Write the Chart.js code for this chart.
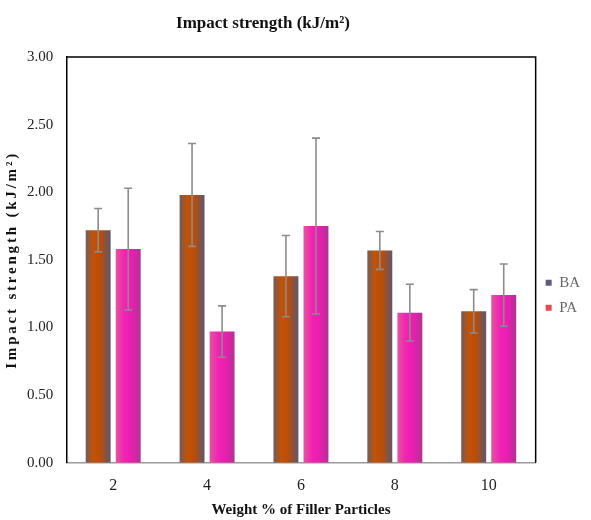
<!DOCTYPE html>
<html>
<head>
<meta charset="utf-8">
<script src="https://cdn.jsdelivr.net/npm/chart.js@4"></script>
<style>
  html, body { margin: 0; padding: 0; background: #fff; }
  #wrap { position: relative; width: 591px; height: 520px; }
  #heading {
    position: absolute; left: 0; top: 13px; width: 526px;
    text-align: center;
    font: bold 17px "Liberation Serif", "DejaVu Serif", serif;
    color: #111;
  }
  canvas { position: absolute; left: 0; top: 0; }
</style>
</head>
<body>
<div id="wrap">
  <canvas id="impactChart" width="591" height="520"></canvas>
  <div id="heading">Impact strength (kJ/m²)</div>
</div>
<script>
const weightLabels = ['2', '4', '6', '8', '10'];
const baValues = [1.72, 1.98, 1.38, 1.57, 1.12];
const paValues = [1.58, 0.97, 1.75, 1.11, 1.24];
const baErrors = [0.16, 0.38, 0.30, 0.14, 0.16];
const paErrors = [0.45, 0.19, 0.65, 0.21, 0.23];
const yTicks = [0, 0.5, 1, 1.5, 2, 2.5, 3];

const CAT_PCT = 0.64;
const BAR_PCT = 0.83;

const serif = '"Liberation Serif", "DejaVu Serif", serif';

const gradientStops = [
    [[0, '#725c5c'], [0.3, '#c25206'], [0.6, '#b94d0a'], [1, '#5b5870']],
    [[0, '#e2559c'], [0.35, '#f222b4'], [0.7, '#e41fae'], [1, '#ad3592']]
];
const flatColors = ['#c25206', '#f222b4'];

// horizontal shading across each bar, worked out from the category scale
function barFill(ctx) {
    const chart = ctx.chart;
    const xScale = chart.scales.x;
    if (!chart.chartArea || !xScale || ctx.dataIndex === undefined) {
        return flatColors[ctx.datasetIndex];
    }
    const centre = xScale.getPixelForValue(ctx.dataIndex);
    const groupW = (xScale.width / weightLabels.length) * CAT_PCT;
    const barW = groupW / 2 * BAR_PCT;
    const mid = centre - groupW / 4 + ctx.datasetIndex * groupW / 2;
    const g = chart.ctx.createLinearGradient(mid - barW / 2, 0, mid + barW / 2, 0);
    gradientStops[ctx.datasetIndex].forEach(s => g.addColorStop(s[0], s[1]));
    return g;
}

const errorBars = {
    id: 'errorBars',
    afterDatasetsDraw(chart) {
        const c = chart.ctx;
        const y = chart.scales.y;
        const errs = [baErrors, paErrors];
        c.save();
        c.strokeStyle = '#8c8c8c';
        c.lineWidth = 1.6;
        chart.data.datasets.forEach((ds, di) => {
            chart.getDatasetMeta(di).data.forEach((bar, i) => {
                const top = y.getPixelForValue(ds.data[i] + errs[di][i]);
                const bot = y.getPixelForValue(ds.data[i] - errs[di][i]);
                c.beginPath();
                c.moveTo(bar.x, top);
                c.lineTo(bar.x, bot);
                c.moveTo(bar.x - 4, top);
                c.lineTo(bar.x + 4, top);
                c.moveTo(bar.x - 4, bot);
                c.lineTo(bar.x + 4, bot);
                c.stroke();
            });
        });
        c.restore();
    }
};

// black frame on the top and right of the plot area
const plotFrame = {
    id: 'plotFrame',
    afterDraw(chart) {
        const a = chart.chartArea;
        const c = chart.ctx;
        c.save();
        c.strokeStyle = '#000';
        c.lineWidth = 1.5;
        c.beginPath();
        c.moveTo(a.left, a.top);
        c.lineTo(a.right, a.top);
        c.lineTo(a.right, a.bottom);
        c.stroke();
        c.restore();
    }
};

// the y axis title is set with wide letter spacing
const spacedTitle = {
    id: 'spacedTitle',
    beforeDraw(chart) {
        const s = chart.scales.y;
        if (s._spaced) return;
        const orig = s.drawTitle;
        s.drawTitle = function() {
            this.ctx.save();
            this.ctx.letterSpacing = '2.8px';
            orig.apply(this, arguments);
            this.ctx.restore();
        };
        s._spaced = true;
    }
};

new Chart(document.getElementById('impactChart'), {
    type: 'bar',
    data: {
        labels: weightLabels,
        datasets: [{
            label: 'BA',
            data: baValues,
            backgroundColor: barFill,
            categoryPercentage: CAT_PCT,
            barPercentage: BAR_PCT
        }, {
            label: 'PA',
            data: paValues,
            backgroundColor: barFill,
            categoryPercentage: CAT_PCT,
            barPercentage: BAR_PCT
        }]
    },
    options: {
        responsive: false,
        animation: false,
        layout: { padding: { left: 0, right: 1, top: 57, bottom: 1 } },
        plugins: {
            legend: {
                position: 'right',
                title: { display: true, text: '', padding: { top: 0, bottom: 0 } },
                labels: {
                    color: '#333',
                    font: { family: serif, size: 15 },
                    boxWidth: 6,
                    boxHeight: 6,
                    padding: 10,
                    generateLabels: () => [
                        { text: 'BA', fillStyle: '#5f5a7a', strokeStyle: '#5f5a7a', lineWidth: 0, datasetIndex: 0 },
                        { text: 'PA', fillStyle: '#e8484f', strokeStyle: '#e8484f', lineWidth: 0, datasetIndex: 1 }
                    ]
                }
            },
            tooltip: { enabled: false }
        },
        scales: {
            x: {
                grid: { display: false, tickLength: 8 },
                border: { color: '#9a9a9a', width: 1.5 },
                ticks: { color: '#222', font: { family: serif, size: 16 }, padding: 5 },
                title: {
                    display: true,
                    text: 'Weight % of Filler Particles',
                    color: '#111',
                    font: { family: serif, size: 15, weight: 'bold' },
                    padding: { top: 1, bottom: 0 }
                }
            },
            y: {
                min: 0,
                max: 3,
                afterBuildTicks: axis => { axis.ticks = yTicks.map(v => ({ value: v })); },
                grid: { display: false, tickLength: 7 },
                border: { color: '#000', width: 1.5 },
                ticks: {
                    color: '#222',
                    font: { family: serif, size: 15 },
                    padding: 6,
                    callback: v => Number(v).toFixed(2)
                },
                title: {
                    display: true,
                    text: 'Impact strength (kJ/m²)',
                    color: '#111',
                    font: { family: serif, size: 15, weight: 'bold' },
                    padding: { top: 3, bottom: 0 }
                }
            }
        }
    },
    plugins: [errorBars, plotFrame, spacedTitle]
});
</script>
</body>
</html>
